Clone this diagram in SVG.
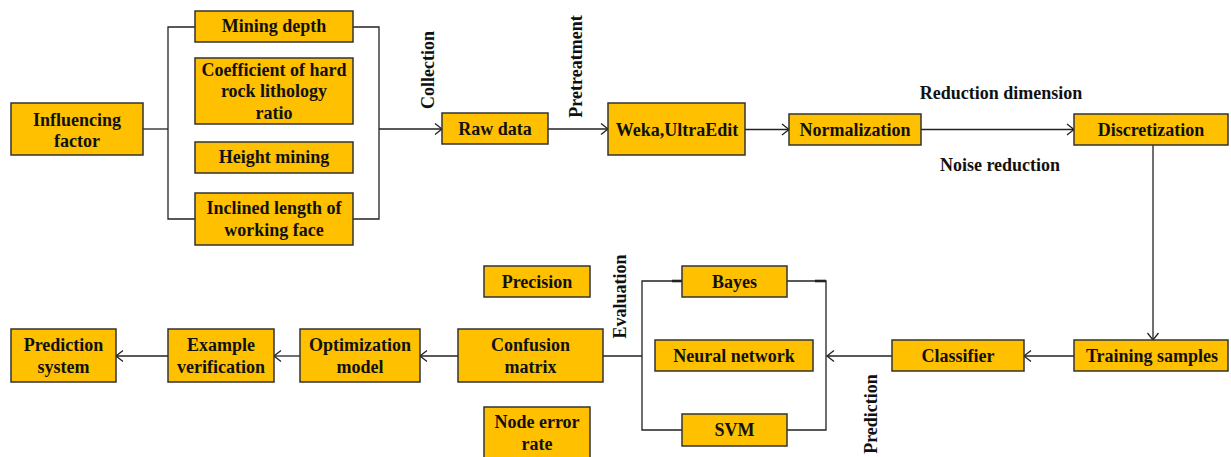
<svg xmlns="http://www.w3.org/2000/svg" width="1231" height="457" viewBox="0 0 1231 457">
<defs>
<marker id="arr" markerUnits="userSpaceOnUse" markerWidth="16" markerHeight="16" viewBox="-10 -8 12 16" refX="0" refY="0" orient="auto">
<path d="M-7,-5.5 L0,0 L-7,5.5" fill="none" stroke="#222" stroke-width="1.3"/>
</marker>
</defs>
<style>
rect{fill:#FFC000;stroke:#333;stroke-width:1.5}
text{font-family:"Liberation Serif","Times New Roman",serif;font-weight:bold;font-size:18px;fill:#111;text-anchor:middle}
.c line,.c path{stroke:#222;stroke-width:1.3;fill:none}
.c .a{marker-end:url(#arr)}
</style>
<rect x="0" y="0" width="1231" height="457" style="fill:#fff;stroke:none"/>
<g class="c" id="connectors">
<line x1="143" y1="129" x2="168" y2="129"/>
<path d="M195,27 H168 V219 H195"/>
<path d="M353,27 H379 V219 H353"/>
<line class="a" x1="379" y1="129" x2="442" y2="129"/>
<line class="a" x1="548" y1="129" x2="608" y2="129"/>
<line class="a" x1="745" y1="129.5" x2="789" y2="129.5"/>
<line class="a" x1="921" y1="129.5" x2="1074" y2="129.5"/>
<line class="a" x1="1153" y1="145" x2="1153" y2="340"/>
<line class="a" x1="1074" y1="356" x2="1024" y2="356"/>
<line class="a" x1="892" y1="356" x2="827" y2="356"/>
<path d="M682,281 H642 V430 H682"/>
<path d="M787,281 H826 V430 H787"/>
<line x1="672" y1="281" x2="682" y2="281" style="stroke-width:2.6"/>
<line x1="815" y1="281" x2="826" y2="281" style="stroke-width:2.6"/>
<line x1="642" y1="356" x2="603" y2="356"/>
<line class="a" x1="458" y1="356" x2="420" y2="356"/>
<line class="a" x1="300" y1="356" x2="274" y2="356"/>
<line class="a" x1="168" y1="356" x2="116" y2="356"/>
</g>
<g id="influencing-factor"><rect x="11" y="103" width="132" height="52"/><text x="77" y="126">Influencing</text><text x="77" y="147">factor</text></g>
<g id="mining-depth"><rect x="195" y="11" width="158" height="31"/><text x="274" y="32">Mining depth</text></g>
<g id="coefficient"><rect x="195" y="58" width="158" height="66"/><text x="274" y="75.5">Coefficient of hard</text><text x="274" y="97">rock lithology</text><text x="274" y="118.5">ratio</text></g>
<g id="height-mining"><rect x="195" y="142" width="158" height="31"/><text x="274" y="163">Height mining</text></g>
<g id="inclined-length"><rect x="195" y="193" width="158" height="52"/><text x="274" y="214">Inclined length of</text><text x="274" y="236">working face</text></g>
<g id="raw-data"><rect x="442" y="113" width="106" height="31"/><text x="495" y="134.5">Raw data</text></g>
<g id="weka"><rect x="608" y="103" width="137" height="52"/><text x="677" y="135.5">Weka,UltraEdit</text></g>
<g id="normalization"><rect x="789" y="114" width="132" height="31"/><text x="855" y="135.5">Normalization</text></g>
<g id="discretization"><rect x="1074" y="114" width="154" height="31"/><text x="1151" y="135.5">Discretization</text></g>
<g id="training-samples"><rect x="1074" y="340" width="154" height="31"/><text x="1152" y="362">Training samples</text></g>
<g id="classifier"><rect x="892" y="340" width="132" height="31"/><text x="958" y="362">Classifier</text></g>
<g id="bayes"><rect x="682" y="266" width="105" height="31"/><text x="734.5" y="287.5">Bayes</text></g>
<g id="neural-network"><rect x="655" y="340" width="158" height="31"/><text x="734" y="362">Neural network</text></g>
<g id="svm"><rect x="682" y="414" width="105" height="32"/><text x="734.5" y="436">SVM</text></g>
<g id="precision"><rect x="484" y="266" width="106" height="31"/><text x="537" y="287.5">Precision</text></g>
<g id="confusion-matrix"><rect x="458" y="329" width="145" height="53"/><text x="530.5" y="351">Confusion</text><text x="530.5" y="373">matrix</text></g>
<g id="node-error-rate"><rect x="484" y="407" width="106" height="53"/><text x="537" y="428">Node error</text><text x="537" y="450">rate</text></g>
<g id="optimization-model"><rect x="300" y="329" width="120" height="53"/><text x="360" y="351">Optimization</text><text x="360" y="373">model</text></g>
<g id="example-verification"><rect x="168" y="329" width="106" height="53"/><text x="221" y="351">Example</text><text x="221" y="373">verification</text></g>
<g id="prediction-system"><rect x="11" y="329" width="105" height="53"/><text x="63.5" y="351">Prediction</text><text x="63.5" y="373">system</text></g>
<g id="labels">
<text transform="translate(434,70) rotate(-90)">Collection</text>
<text transform="translate(582,66.5) rotate(-90)">Pretreatment</text>
<text transform="translate(626,296.5) rotate(-90)">Evaluation</text>
<text transform="translate(877,414) rotate(-90)">Prediction</text>
<text x="1001" y="99">Reduction dimension</text>
<text x="1000" y="171">Noise reduction</text>
</g>
</svg>
